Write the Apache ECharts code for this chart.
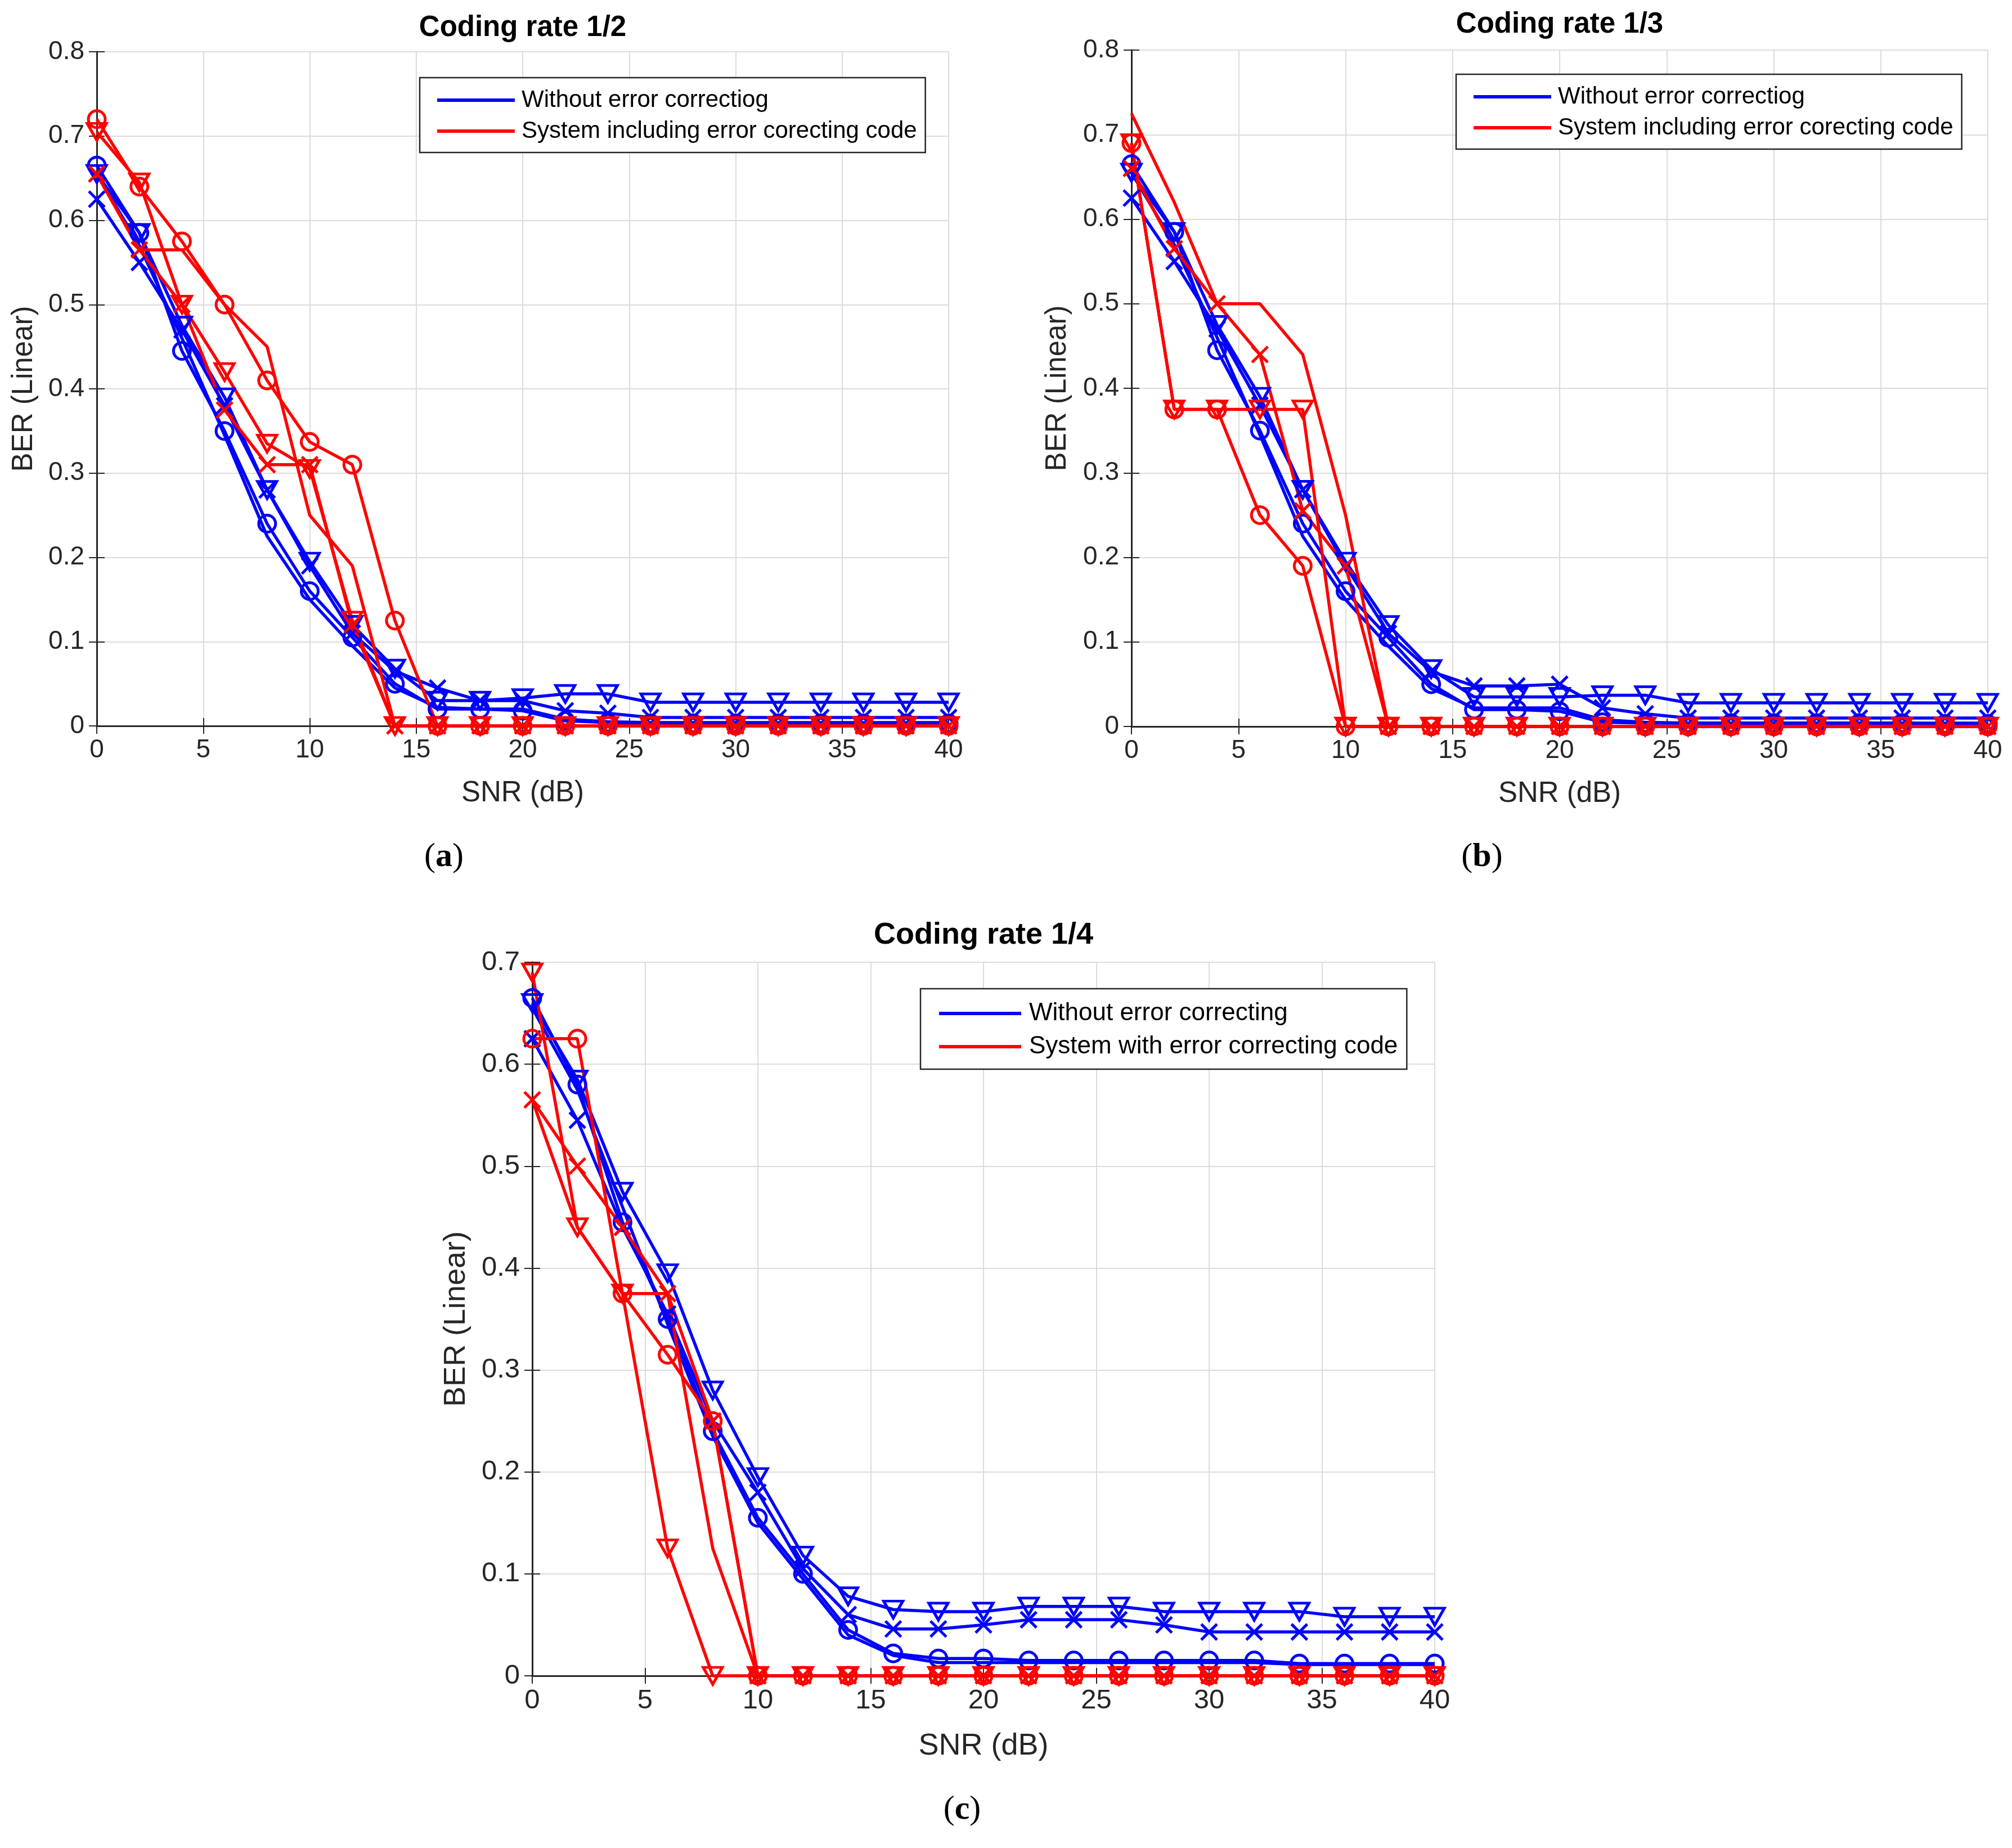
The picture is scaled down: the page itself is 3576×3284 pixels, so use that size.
<!DOCTYPE html>
<html><head><meta charset="utf-8">
<script src="https://cdn.jsdelivr.net/npm/echarts@6/dist/echarts.min.js"></script>
<style>html,body{margin:0;padding:0;background:#fff}#c{width:3576px;height:3284px}</style>
</head><body><div id="c"></div>
<script>
// ---------- data ----------
const snr = [0,2,4,6,8,10,12,14,16,18,20,22,24,26,28,30,32,34,36,38,40];
const xTicks = [0,5,10,15,20,25,30,35,40];

// (a) coding rate 1/2
const aBlueO = [0.665,0.585,0.445,0.350,0.240,0.160,0.105,0.050,0.020,0.020,0.018,0.006,0.004,0.003,0.003,0.003,0.003,0.003,0.003,0.003,0.003];
const aBlueX = [0.625,0.550,0.470,0.380,0.280,0.190,0.110,0.065,0.045,0.030,0.030,0.018,0.015,0.010,0.010,0.010,0.010,0.010,0.010,0.010,0.010];
const aBlueV = [0.655,0.585,0.475,0.390,0.280,0.195,0.120,0.068,0.030,0.030,0.033,0.038,0.038,0.028,0.028,0.028,0.028,0.028,0.028,0.028,0.028];
const aBlueN = [0.655,0.570,0.460,0.345,0.225,0.150,0.095,0.045,0.022,0.020,0.020,0.008,0.005,0.004,0.004,0.004,0.004,0.004,0.004,0.004,0.004];
const aRedO  = [0.720,0.640,0.575,0.500,0.410,0.337,0.310,0.125,0,0,0,0,0,0,0,0,0,0,0,0,0];
const aRedX  = [0.655,0.565,0.500,0.375,0.310,0.310,0.120,0,0,0,0,0,0,0,0,0,0,0,0,0,0];
const aRedV  = [0.705,0.645,0.500,0.420,0.335,0.305,0.125,0,0,0,0,0,0,0,0,0,0,0,0,0,0];
const aRedN  = [0.655,0.565,0.565,0.500,0.450,0.250,0.190,0,0,0,0,0,0,0,0,0,0,0,0,0,0];

// (b) coding rate 1/3
const bBlueO = [0.665,0.585,0.445,0.350,0.240,0.160,0.105,0.050,0.020,0.020,0.018,0.005,0.004,0.004,0.004,0.004,0.004,0.004,0.004,0.003,0.003];
const bBlueX = [0.625,0.550,0.470,0.380,0.280,0.190,0.110,0.065,0.048,0.048,0.050,0.022,0.015,0.010,0.010,0.010,0.010,0.010,0.010,0.010,0.010];
const bBlueV = [0.655,0.585,0.475,0.390,0.280,0.195,0.120,0.068,0.035,0.035,0.035,0.037,0.037,0.028,0.028,0.028,0.028,0.028,0.028,0.028,0.028];
const bBlueN = [0.655,0.570,0.460,0.345,0.225,0.150,0.095,0.045,0.022,0.022,0.022,0.008,0.005,0.004,0.004,0.004,0.004,0.004,0.004,0.004,0.004];
const bRedO  = [0.690,0.375,0.375,0.250,0.190,0,0,0,0,0,0,0,0,0,0,0,0,0,0,0,0];
const bRedX  = [0.660,0.565,0.500,0.440,0.255,0.190,0,0,0,0,0,0,0,0,0,0,0,0,0,0,0];
const bRedV  = [0.690,0.375,0.375,0.375,0.375,0,0,0,0,0,0,0,0,0,0,0,0,0,0,0,0];
const bRedN  = [0.725,0.620,0.500,0.500,0.440,0.250,0,0,0,0,0,0,0,0,0,0,0,0,0,0,0];

// (c) coding rate 1/4
const cBlueO = [0.665,0.580,0.445,0.350,0.240,0.155,0.100,0.045,0.022,0.017,0.017,0.015,0.015,0.015,0.015,0.015,0.015,0.012,0.012,0.012,0.012];
const cBlueX = [0.625,0.545,0.440,0.355,0.250,0.180,0.105,0.060,0.046,0.046,0.050,0.055,0.055,0.055,0.050,0.043,0.043,0.043,0.043,0.043,0.043];
const cBlueV = [0.660,0.585,0.475,0.395,0.280,0.195,0.118,0.078,0.065,0.063,0.063,0.068,0.068,0.068,0.063,0.063,0.063,0.063,0.058,0.058,0.058];
const cBlueN = [0.655,0.575,0.460,0.345,0.235,0.150,0.095,0.040,0.020,0.013,0.013,0.013,0.013,0.013,0.013,0.013,0.013,0.011,0.011,0.011,0.011];
const cRedO  = [0.625,0.625,0.375,0.315,0.250,0,0,0,0,0,0,0,0,0,0,0,0,0,0,0,0];
const cRedX  = [0.565,0.500,0.440,0.375,0.250,0,0,0,0,0,0,0,0,0,0,0,0,0,0,0,0];
const cRedV  = [0.690,0.440,0.375,0.125,0,0,0,0,0,0,0,0,0,0,0,0,0,0,0,0,0];
const cRedN  = [0.565,0.440,0.375,0.375,0.125,0,0,0,0,0,0,0,0,0,0,0,0,0,0,0,0];

const titles = ['Coding rate 1/2','Coding rate 1/3','Coding rate 1/4'];
const subLabels = ['a','b','c'];
const blueNames = ['Without error correctiog','Without error correctiog','Without error correcting'];
const redNames = ['System including error corecting code','System including error corecting code','System with error correcting code'];
const yMax = [0.8, 0.8, 0.7];

// ---------- layout / style ----------
const BLUE = '#0000ff', RED = '#ff0000', AX = '#262626';
const FONT = 'Liberation Sans, Arial, Helvetica, sans-serif';
const grids = [
  {left:172, top:92, right:3576-1686, bottom:3284-1290},
  {left:2011, top:89, right:3576-3533, bottom:3284-1291},
  {left:946, top:1710, right:3576-2550, bottom:3284-2978}
];
const fs = [ {tick:46, lab:51, leg:42}, {tick:46, lab:51, leg:42}, {tick:49, lab:54, leg:44} ];
const yNameGap = [104, 106, 108];
const xNameGap = [94, 94, 98];

const sets = [
  {blue:[aBlueO,aBlueX,aBlueV,aBlueN], red:[aRedO,aRedX,aRedV,aRedN]},
  {blue:[bBlueO,bBlueX,bBlueV,bBlueN], red:[bRedO,bRedX,bRedV,bRedN]},
  {blue:[cBlueO,cBlueX,cBlueV,cBlueN], red:[cRedO,cRedX,cRedV,cRedN]}
];
const markers = ['o','x','v','none'];
function symOf(m){
  if (m==='o') return {symbol:'circle', symbolSize:30};
  if (m==='x') return {symbol:'path://M0,0L10,10M10,0L0,10', symbolSize:28};
  if (m==='v') return {symbol:'triangle', symbolSize:[34,30], symbolRotate:180};
  return {symbol:'none'};
}

const xAxis = [], yAxis = [], series = [], legend = [];
grids.forEach((g, i) => {
  const common = {
    type:'value', gridIndex:i,
    axisLine:{show:true, lineStyle:{color:AX, width:3}},
    axisTick:{show:true, inside:true, length:14, lineStyle:{color:AX, width:2}}
  };
  xAxis.push(Object.assign({}, common, {
    position:'bottom', min:0, max:40, interval:5,
    axisLabel:{fontSize:fs[i].tick, color:AX, fontFamily:FONT, margin:20},
    splitLine:{show:true, lineStyle:{color:'#dcdcdc', width:2}},
    name:'SNR (dB)', nameLocation:'middle', nameGap:xNameGap[i],
    nameTextStyle:{fontSize:fs[i].lab, color:AX, fontFamily:FONT}
  }));
  xAxis.push(Object.assign({}, common, {
    position:'top', min:0, max:40, interval:5, axisLabel:{show:false}, splitLine:{show:false}
  }));
  yAxis.push(Object.assign({}, common, {
    position:'left', min:0, max:yMax[i], interval:0.1,
    axisLabel:{fontSize:fs[i].tick, color:AX, fontFamily:FONT, margin:22},
    splitLine:{show:true, lineStyle:{color:'#dcdcdc', width:2}},
    name:'BER (Linear)', nameLocation:'middle', nameGap:yNameGap[i],
    nameTextStyle:{fontSize:fs[i].lab, color:AX, fontFamily:FONT}
  }));
  yAxis.push(Object.assign({}, common, {
    position:'right', min:0, max:yMax[i], interval:0.1, axisLabel:{show:false}, splitLine:{show:false}
  }));
  const add = (vals, color, m, name) => {
    series.push(Object.assign({
      type:'line', name:name, xAxisIndex:2*i, yAxisIndex:2*i,
      data: snr.map((x,k) => [x, vals[k]]),
      lineStyle:{color:color, width:5.5},
      itemStyle:{color:'rgba(0,0,0,0)', borderColor:color, borderWidth:5},
      clip:false, showAllSymbol:true, animation:false, z:3
    }, symOf(m)));
  };
  sets[i].blue.forEach((v,k) => add(v, BLUE, markers[k], blueNames[i]));
  sets[i].red.forEach((v,k) => add(v, RED, markers[k], redNames[i]));
});

const legPos = [
  {left:746, top:138, padding:[19,15,17,31], itemWidth:138, gap:13, tp:7},
  {left:2588, top:132, padding:[19,15,17,31], itemWidth:138, gap:13, tp:7},
  {left:1636, top:1757, padding:[22,16,18,33], itemWidth:146, gap:15, tp:9}
];
legPos.forEach((p, i) => {
  legend.push({
    orient:'vertical', left:p.left, top:p.top, padding:p.padding,
    itemWidth:p.itemWidth, itemHeight:6, itemGap:p.gap, icon:'rect',
    selectedMode:false, backgroundColor:'#fff', borderColor:AX, borderWidth:2.5, borderRadius:0,
    textStyle:{fontSize:fs[i].leg, color:'#000', fontFamily:FONT, padding:[0,0,0,p.tp]},
    data:[
      {name:blueNames[i], itemStyle:{color:BLUE, borderWidth:0}},
      {name:redNames[i], itemStyle:{color:RED, borderWidth:0}}
    ]
  });
});

const titlePos = [[929,50,51],[2772,44,51],[1748,1662,54]];
const subPos = [[789,1523],[2634,1523],[1710,3216]];
const graphic = [];
titlePos.forEach((t,i) => graphic.push({
  type:'text', x:t[0], y:t[1], z:10,
  style:{text:titles[i], fontSize:t[2], fontWeight:'bold', fontFamily:FONT, fill:'#000', align:'center', verticalAlign:'middle'}
}));
subPos.forEach((s,i) => graphic.push({
  type:'text', x:s[0], y:s[1], z:10,
  style:{text:'{p|(}{b|' + subLabels[i] + '}{p|)}', align:'center', verticalAlign:'middle',
    rich:{p:{fontSize:60, fontFamily:'Liberation Serif, Times New Roman, serif', fill:'#000'},
          b:{fontSize:60, fontWeight:'bold', fontFamily:'Liberation Serif, Times New Roman, serif', fill:'#000'}}}
}));

const chart = echarts.init(document.getElementById('c'), null, {renderer:'canvas'});
chart.setOption({
  backgroundColor:'#fff', animation:false,
  grid: grids.map(g => Object.assign({containLabel:false}, g)),
  xAxis, yAxis, series, legend, graphic
});
</script></body></html>
